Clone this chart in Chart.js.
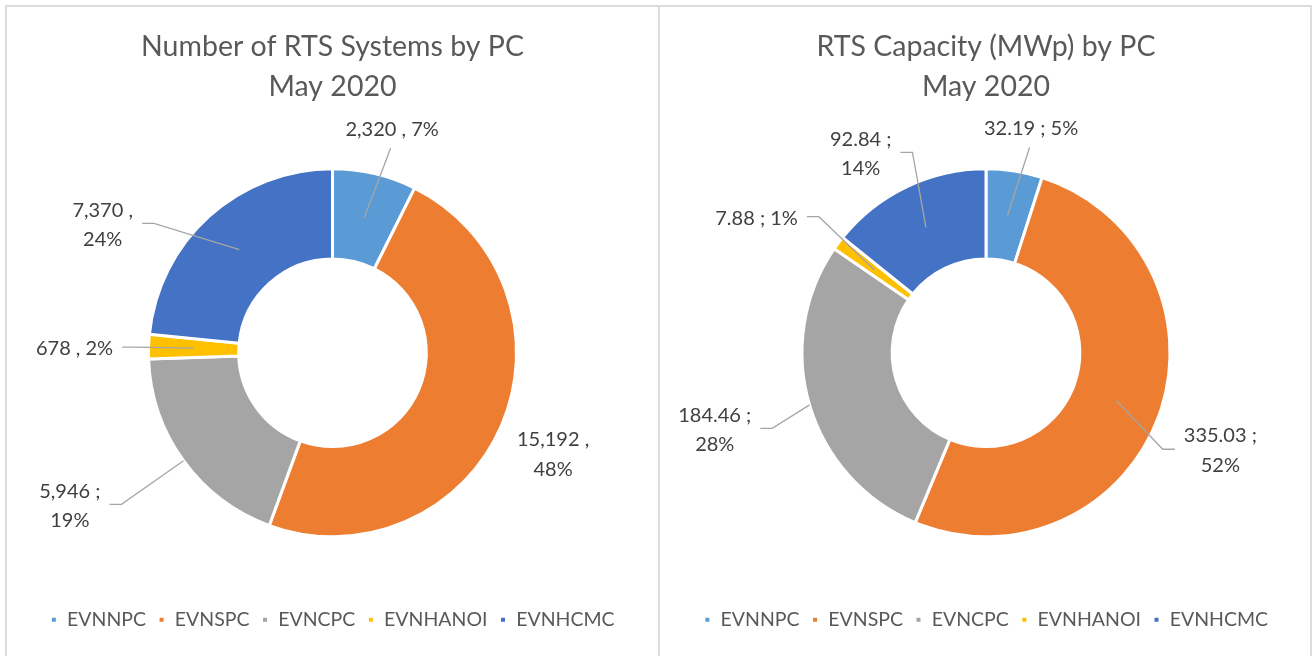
<!DOCTYPE html>
<html><head><meta charset="utf-8">
<script src="https://cdn.jsdelivr.net/npm/chart.js@4.4.0/dist/chart.umd.min.js"></script>
<style>
html,body{margin:0;padding:0;background:#fff;width:1313px;height:656px;overflow:hidden;}
.panel{position:absolute;top:5px;height:700px;border:2px solid #dcdcdc;box-sizing:border-box;}
#p1{left:5px;width:655px;}
#p2{left:658px;width:654px;}
canvas{position:absolute;top:0;}
#c1{left:0;}
#c2{left:659px;}
</style></head>
<body>
<div class="panel" id="p1"></div><div class="panel" id="p2"></div>
<canvas id="c1" width="659" height="656" style="width:659px;height:656px"></canvas>
<canvas id="c2" width="654" height="656" style="width:654px;height:656px"></canvas>
<script>
const categories = ['EVNNPC','EVNSPC','EVNCPC','EVNHANOI','EVNHCMC'];
const systemsValues = [2320, 15192, 5946, 678, 7370];
const systemsLabels = [['2,320 , 7%'], ['15,192 ,', '48%'], ['5,946 ;', '19%'], ['678 , 2%'], ['7,370 ,', '24%']];
const capacityValues = [32.19, 335.03, 184.46, 7.88, 92.84];
const capacityLabels = [['32.19 ; 5%'], ['335.03 ;', '52%'], ['184.46 ;', '28%'], ['7.88 ; 1%'], ['92.84 ;', '14%']];
const systemsTitle = ['Number of RTS Systems by PC', 'May 2020'];
const capacityTitle = ['RTS Capacity (MWp) by PC', 'May 2020'];
const sliceColors = ['#5B9BD5','#ED7D31','#A5A5A5','#FFC000','#4472C4'];

const FONT = 'Lato';

// label placement: polar offset from slice mid-angle (deg), distance from centre (px),
// leader anchor radius fraction (0=inner edge, 1=outer edge), leader style
const systemsPlacement = [
  {dA: 1.7, dist: 231, anchor: 0.5, leader: 'top'},
  {dA: 1.5, dist: 243, anchor: 0.5, leader: null},
  {dA: 5.7, dist: 304, anchor: 1.0, leader: 'side'},
  {dA: -1.0, dist: 258, anchor: 0.5, leader: 'side'},
  {dA: -18.8, dist: 263, anchor: 0.5, leader: 'side'}
];
const capacityPlacement = [
  {dA: 2.5, dist: 228.5, anchor: 0.5, leader: 'top'},
  {dA: 2.5, dist: 254, anchor: 0.5, leader: 'side'},
  {dA: 0.6, dist: 282, anchor: 1.0, leader: 'side'},
  {dA: -6.2, dist: 266, anchor: 0.5, leader: 'side'},
  {dA: -6.6, dist: 235, anchor: 0.5, leader: 'side'}
];

const labelPlugin = {
  id: 'outLabels',
  afterDatasetsDraw(chart, args, opts) {
    const ctx = chart.ctx;
    const meta = chart.getDatasetMeta(0);
    const texts = opts.texts, place = opts.placement;
    ctx.save();
    ctx.font = '20px ' + FONT;
    ctx.fillStyle = '#404040';
    ctx.textAlign = 'center';
    ctx.textBaseline = 'middle';
    const lh = 29.5;
    meta.data.forEach((arc, i) => {
      const p = arc.getProps(['x','y','startAngle','endAngle','innerRadius','outerRadius'], true);
      const mid = (p.startAngle + p.endAngle) / 2;
      const pl = place[i];
      const a = mid + pl.dA * Math.PI / 180;
      const cx = p.x + Math.cos(a) * pl.dist;
      const cy = p.y + Math.sin(a) * pl.dist;
      const lines = texts[i];
      const h = lines.length * lh;
      let maxW = 0;
      lines.forEach(t => { maxW = Math.max(maxW, ctx.measureText(t).width); });
      lines.forEach((t, k) => ctx.fillText(t, cx, cy - h / 2 + lh / 2 + k * lh));
      if (pl.leader) {
        const ar = p.innerRadius + (p.outerRadius - p.innerRadius) * pl.anchor;
        const ax = p.x + Math.cos(mid) * ar;
        const ay = p.y + Math.sin(mid) * ar;
        ctx.beginPath();
        ctx.strokeStyle = '#a6a6a6';
        ctx.lineWidth = 1.3;
        if (pl.leader === 'top') {
          ctx.moveTo(cx - 1.5, cy + h / 2 + 4);
        } else {
          const dir = ax > cx ? 1 : -1;
          const sx = cx + dir * (maxW / 2 + 9);
          const sy = cy - 1.5;
          ctx.moveTo(sx, sy);
          ctx.lineTo(sx + dir * 12, sy);
        }
        ctx.lineTo(ax, ay);
        ctx.stroke();
      }
    });
    ctx.restore();
  }
};

function makeChart(id, values, labels, title, placement, padLeft) {
  return new Chart(document.getElementById(id), {
    type: 'doughnut',
    data: {
      labels: categories,
      datasets: [{
        data: values,
        backgroundColor: sliceColors,
        borderColor: '#ffffff',
        borderWidth: 3,
        hoverOffset: 0
      }]
    },
    options: {
      responsive: false,
      animation: false,
      events: [],
      radius: 184,
      cutout: '51%',
      layout: {padding: {left: padLeft, right: 0, top: 0, bottom: 16.5}},
      plugins: {
        tooltip: {enabled: false},
        title: {
          display: true,
          text: title,
          color: '#595959',
          font: {family: FONT, size: 28.5, weight: 'normal', lineHeight: 40 / 28.5},
          padding: {top: 27, bottom: 0.5}
        },
        legend: {
          position: 'bottom',
          labels: {
            color: '#595959',
            font: {family: FONT, size: 19.5},
            boxWidth: 7,
            boxHeight: 7,
            padding: 12
          }
        },
        outLabels: {texts: labels, placement: placement}
      }
    },
    plugins: [labelPlugin]
  });
}
makeChart('c1', systemsValues, systemsLabels, systemsTitle, systemsPlacement, 6);
makeChart('c2', capacityValues, capacityLabels, capacityTitle, capacityPlacement, 0);
</script>
</body></html>
